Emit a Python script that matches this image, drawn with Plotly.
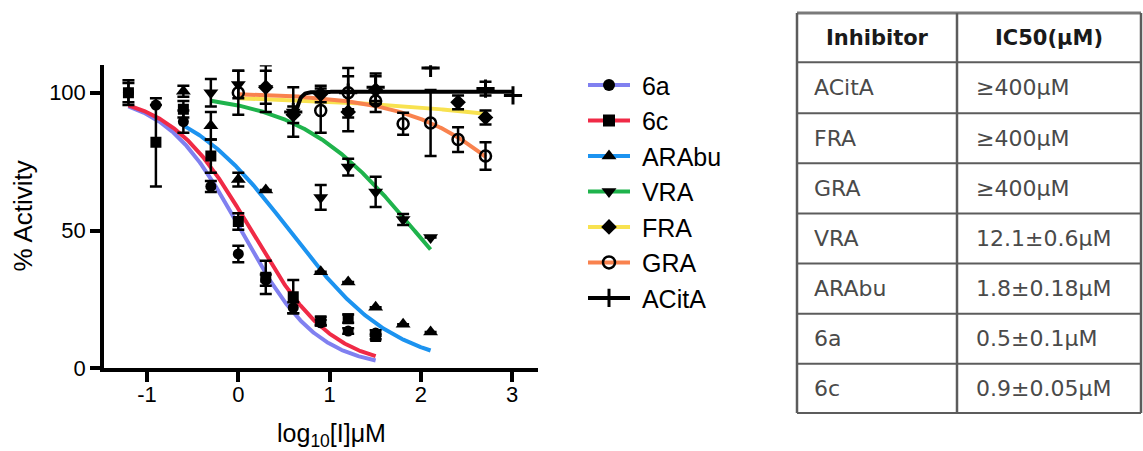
import numpy as np
import plotly.graph_objects as go

W, H = 1143, 451          # design (reference) pixel space
FIG_H = 465               # figure height that the page is photographed at

# ---------------- data (concentrations in µM, % activity, error) ----------------
a6_conc = [0.0625, 0.125, 0.25, 0.5, 1, 2, 4, 8, 16, 32]
a6_act = [100, 95.5, 89.5, 66, 41.5, 32, 22, 16.5, 13.5, 12.8]
a6_err = [4.5, 0, 4, 2, 3, 2, 2, 1, 1, 1]

c6_conc = [0.0625, 0.125, 0.25, 0.5, 1, 2, 4, 8, 16, 32]
c6_act = [100, 82, 94, 77, 53.3, 33, 26, 17.2, 18, 11.5]
c6_err = [3.5, 16, 3, 6, 3, 6, 6, 1.5, 1.5, 1]

arabu_conc = [0.25, 0.5, 1, 2, 8, 16, 32, 64, 128]
arabu_act = [100.5, 88, 68.5, 64.7, 35, 31.3, 22.2, 16, 13.2]
arabu_err = [2, 5, 2.5, 0, 0, 0, 0, 0, 0]

vra_conc = [0.5, 1, 2, 4, 8, 16, 32, 64, 128]
vra_act = [100, 103, 101.5, 93, 62, 73, 64, 54, 47.5]
vra_err = [5, 5, 8.5, 9, 4.5, 3, 5.5, 2, 0]

fra_conc = [2, 4, 8, 16, 32, 256, 512]
fra_act = [102, 92, 99.5, 93, 101, 96.5, 91]
fra_err = [6, 3, 3, 7, 5, 2.5, 2.5]

gra_conc = [1, 8, 16, 32, 64, 128, 256, 512]
gra_act = [100, 93.5, 100, 97, 88.7, 89, 83, 77]
gra_err = [8, 8, 9, 4, 4, 12, 4.5, 5]

acita_conc = [4, 16, 32, 128, 512, 1024]
acita_act = [93, 100, 102, 109, 101.5, 99]
acita_err = [0, 6, 5, 0, 2.5, 0]

series_names = ["6a", "6c", "ARAbu", "VRA", "FRA", "GRA", "ACitA"]
series_colors = ["#8080F0", "#F02A46", "#1C93F0", "#1FB34C", "#F8E250", "#F9824E", "#000000"]
series_symbols = ["circle", "square", "triangle-up", "triangle-down", "diamond", "circle-open", "cross-thin"]

# fitted dose-response parameters
fit_top = [100, 100, 100, 100, 100, 100, 100.3]
fit_bottom = [0, 0, 0, 0, 0, 0, 85]
fit_logic50 = [0.03, 0.14, 0.56, 1.93, 7.5, 3.51, 0.62]
fit_hill = [1.04, 0.98, 0.75, 0.68, 0.226, 0.647, -12]
fit_xmin = [-1.204, -1.204, -0.602, -0.301, 0.0, 0.0, 0.602]
fit_xmax = [1.505, 1.505, 2.107, 2.107, 2.709, 2.709, 3.010]

x_ticks = [-1, 0, 1, 2, 3]
x_ticklabels = ["-1", "0", "1", "2", "3"]
y_ticks = [0, 50, 100]
y_ticklabels = ["0", "50", "100"]

table_header = ["Inhibitor", "IC50(μM)"]
table_inhibitor = ["ACitA", "FRA", "GRA", "VRA", "ARAbu", "6a", "6c"]
table_ic50 = ["≥400μM", "≥400μM", "≥400μM", "12.1±0.6μM", "1.8±0.18μM", "0.5±0.1μM", "0.9±0.05μM"]

data_sets = [
    (a6_conc, a6_act, a6_err),
    (c6_conc, c6_act, c6_err),
    (arabu_conc, arabu_act, arabu_err),
    (vra_conc, vra_act, vra_err),
    (fra_conc, fra_act, fra_err),
    (gra_conc, gra_act, gra_err),
    (acita_conc, acita_act, acita_err),
]

FONT = "Liberation Sans, Arial, Helvetica, sans-serif"


def px(xp):
    return xp / W


def py(yp):
    return 1 - yp / H


fig = go.Figure()

# fitted curves
for i, name in enumerate(series_names):
    xs = np.linspace(fit_xmin[i], fit_xmax[i], 300)
    ys = fit_bottom[i] + (fit_top[i] - fit_bottom[i]) / (1 + 10 ** ((xs - fit_logic50[i]) * fit_hill[i]))
    fig.add_trace(go.Scatter(x=xs, y=ys, mode="lines",
                             line=dict(color=series_colors[i], width=4),
                             showlegend=False, hoverinfo="skip"))


def marker_for(sym, legend=False):
    if sym == "circle-open":
        return dict(symbol=sym, size=12 if legend else 11, color="black",
                    line=dict(color="black", width=2.5))
    if sym == "cross-thin":
        return dict(symbol="line-ns" if legend else sym, size=13, color="black",
                    line=dict(color="black", width=3))
    if sym.startswith("triangle"):
        return dict(symbol=sym, size=13, color="black")
    if sym == "diamond":
        return dict(symbol=sym, size=12, color="black")
    return dict(symbol=sym, size=12 if legend else 11, color="black")


# data points with error bars
for i, name in enumerate(series_names):
    conc, act, err = data_sets[i]
    xs = np.log10(np.array(conc, dtype=float))
    errs = [e if e > 0 else None for e in err]
    fig.add_trace(go.Scatter(x=xs, y=act, mode="markers", marker=marker_for(series_symbols[i]),
                             error_y=dict(type="data", array=errs, color="black",
                                          thickness=2.5, width=6),
                             showlegend=False, name=name))

# legend entries
for i, name in enumerate(series_names):
    fig.add_trace(go.Scatter(x=[None], y=[None], mode="lines+markers", name="\u00a0" + name,
                             line=dict(color=series_colors[i], width=4),
                             marker=marker_for(series_symbols[i], legend=True)))

shapes = []
annotations = []

# table
col_x = [797, 957, 1141]
row_y = [13, 62, 113, 163, 213, 263, 313, 363, 412]
line_col = "#5c5c5c"
for k, yv in enumerate(row_y):
    shapes.append(dict(type="line", xref="paper", yref="paper",
                       x0=px(col_x[0]), x1=px(col_x[-1]), y0=py(yv), y1=py(yv),
                       line=dict(color="#7a7a7a" if k == 0 else line_col, width=3 if k == 0 else 2)))
for xv in col_x:
    shapes.append(dict(type="line", xref="paper", yref="paper",
                       x0=px(xv), x1=px(xv), y0=py(row_y[0]), y1=py(row_y[-1]),
                       line=dict(color=line_col, width=2.5)))

for c in range(2):
    annotations.append(dict(x=px((col_x[c] + col_x[c + 1]) / 2), y=py((row_y[0] + row_y[1]) / 2),
                            xref="paper", yref="paper", text="<b>%s</b>" % table_header[c],
                            showarrow=False,
                            font=dict(family="DejaVu Sans", size=21, color="#1a1a1a"),
                            xanchor="center", yanchor="middle"))
for r, (inh, val) in enumerate(zip(table_inhibitor, table_ic50)):
    yc = (row_y[r + 1] + row_y[r + 2]) / 2
    annotations.append(dict(x=px(812), y=py(yc), xref="paper", yref="paper", text=inh,
                            showarrow=False, font=dict(family="DejaVu Sans", size=22, color="#4a4a4a"),
                            xanchor="left", yanchor="middle"))
    annotations.append(dict(x=px(974), y=py(yc), xref="paper", yref="paper", text=val,
                            showarrow=False, font=dict(family="DejaVu Sans", size=22, color="#4a4a4a"),
                            xanchor="left", yanchor="middle"))

# axis titles
annotations.append(dict(x=px(331), y=py(434), xref="paper", yref="paper",
                        text="log<sub>10</sub>[I]μM", showarrow=False,
                        font=dict(family=FONT, size=25, color="black"),
                        xanchor="center", yanchor="middle"))
annotations.append(dict(x=px(23), y=py(216), xref="paper", yref="paper",
                        text="% Activity", showarrow=False, textangle=-90,
                        font=dict(family=FONT, size=26, color="black"),
                        xanchor="center", yanchor="middle"))

axis_common = dict(showline=True, linecolor="black", linewidth=3.5, ticks="outside",
                   ticklen=10, tickwidth=3.5, tickcolor="black", showgrid=False,
                   zeroline=False, tickfont=dict(family=FONT, size=22, color="black"))

fig.update_layout(
    width=W, height=FIG_H, margin=dict(l=0, r=0, t=0, b=0),
    paper_bgcolor="white", plot_bgcolor="white",
    xaxis=dict(domain=[px(104), px(537.6)], range=[-1.472, 3.28],
               tickvals=x_ticks, ticktext=x_ticklabels, ticklabelstandoff=-6, **axis_common),
    yaxis=dict(domain=[py(367.5), py(65)], range=[0, 110],
               tickvals=y_ticks, ticktext=y_ticklabels, **axis_common),
    legend=dict(x=px(583), y=py(62), xanchor="left", yanchor="top",
                font=dict(family=FONT, size=25, color="black"),
                bgcolor="rgba(0,0,0,0)", tracegroupgap=0, itemwidth=42),
    shapes=shapes, annotations=annotations, showlegend=True,
)

fig.write_html("out.html", config={"displayModeBar": False},
               post_script="document.body.style.margin='0';document.body.style.overflow='hidden';")
